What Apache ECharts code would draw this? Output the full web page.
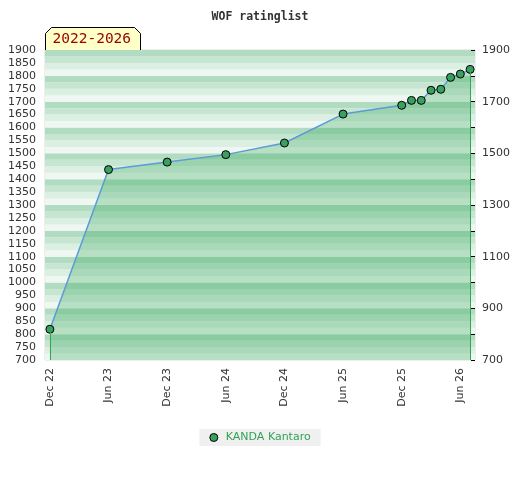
<!DOCTYPE html>
<html>
<head>
<meta charset="utf-8">
<script src="https://cdn.jsdelivr.net/npm/echarts@6/dist/echarts.min.js"></script>
<style>html,body{margin:0;padding:0;background:#fff;}#c{width:520px;height:480px;}</style>
</head>
<body>
<div id="c"></div>
<script>
// ---- data ----
var titleText = 'WOF ratinglist';
var periodText = '2022-2026';
var seriesName = 'KANDA Kantaro';
var monthNames = ['Jan','Feb','Mar','Apr','May','Jun','Jul','Aug','Sep','Oct','Nov','Dec'];
var dates = ['2022-12','2023-06','2023-12','2024-06','2024-12','2025-06','2025-12',
             '2026-01','2026-02','2026-03','2026-04','2026-05','2026-06','2026-07'];
var ratings = [819, 1437, 1466, 1495, 1540, 1652, 1686, 1705, 1705, 1744, 1748, 1794, 1807, 1825];
var yMin = 700, yMax = 1900;

// ---- build monthly category axis from the dates ----
function parse(d){ var p = d.split('-'); return {y:+p[0], m:+p[1]}; }
var first = parse(dates[0]), last = parse(dates[dates.length-1]);
var categories = [];
var y = first.y, m = first.m;
while (y < last.y || (y === last.y && m <= last.m)) {
  categories.push(y + '-' + (m < 10 ? '0' + m : m));
  m++; if (m > 12) { m = 1; y++; }
}
var lookup = {};
dates.forEach(function(d, i){ lookup[d] = ratings[i]; });
var seriesData = categories.map(function(c){ return lookup[c] !== undefined ? lookup[c] : null; });
function fmtCat(c){ var p = parse(c); return monthNames[p.m-1] + ' ' + String(p.y).slice(2); }

var chart = echarts.init(document.getElementById('c'), null, {renderer:'canvas'});
var lblFont = {fontFamily:'DejaVu Sans', fontSize:11, color:'#333'};
chart.setOption({
  animation: false,
  title: {
    text: titleText, left: 'center', top: 6,
    textStyle: {fontFamily:'DejaVu Sans Mono', fontWeight:'bold', fontSize:11.5, color:'#333'}
  },
  grid: {left:45, right:45, top:50, bottom:120, show:true, borderColor:'#dddddd', borderWidth:1, backgroundColor:'transparent'},
  legend: {
    bottom: 34, left: 'center', backgroundColor:'#f0f0f0', padding:[3,10,3,10],
    itemWidth:8, itemHeight:8, itemGap:10,
    textStyle:{fontFamily:'DejaVu Sans', fontSize:11, color:'#2fa355', padding:[0,0,0,3]},
    data:[{name:seriesName, icon:'circle', itemStyle:{color:'#3aa05e', borderColor:'#000', borderWidth:1}}]
  },
  xAxis: {
    type:'category', data:categories, boundaryGap:true,
    axisLine:{show:false}, axisTick:{show:false},
    axisLabel: Object.assign({interval:5, rotate:90, margin:8, formatter:fmtCat}, lblFont)
  },
  yAxis: [
    {
      type:'value', min:yMin, max:yMax, interval:25, position:'left',
      axisLine:{show:false}, axisTick:{show:false}, splitLine:{show:false},
      splitArea:{show:true, areaStyle:{color:['#eef7f1','#dcefe3','#c6e6d1','#b2dcc2']}},
      axisLabel: Object.assign({margin:9, formatter:function(v){ return v % 50 === 0 ? String(v) : ''; }}, lblFont)
    },
    {
      type:'value', min:yMin, max:yMax, interval:100, position:'right',
      axisLine:{show:false}, splitLine:{show:false},
      axisTick:{show:true, inside:true, length:4, lineStyle:{color:'#000', width:1}},
      axisLabel: Object.assign({margin:7, formatter:function(v){ return (v - yMin) % 200 === 0 ? String(v) : ''; }}, lblFont)
    }
  ],
  series: [{
    name: seriesName, type:'line', data: seriesData, connectNulls:true,
    yAxisIndex:0,
    symbol:'circle', symbolSize:8, showAllSymbol:true,
    itemStyle:{color:'#3aa05e', borderColor:'#000', borderWidth:1},
    lineStyle:{color:'#5b9bd5', width:1.5},
    areaStyle:{color:'rgba(40,160,80,0.40)', origin:'start'},
    emphasis:{disabled:true},
    z: 3,
    markLine: {
      silent:true, symbol:['none','none'], label:{show:false},
      lineStyle:{color:'#2fa84f', width:1, type:'solid'},
      emphasis:{disabled:true},
      data: [
        [{coord:[categories[0], ratings[0]]}, {coord:[categories[0], yMin]}],
        [{coord:[categories[categories.length-1], ratings[ratings.length-1]]}, {coord:[categories[categories.length-1], yMin]}]
      ]
    }
  }],
  graphic: [{
    type:'group', left:45, top:27, z:100,
    children:[
      {type:'polygon', shape:{points:[[0,23],[0,6],[6,0],[89,0],[95,6],[95,23]]},
       style:{fill:'#ffffc8', stroke:'#000', lineWidth:1}},
      {type:'text', left:7, top:4,
       style:{text:periodText, font:'14.5px "DejaVu Sans Mono"', fill:'#990000'}}
    ]
  }]
});
</script>
</body>
</html>
